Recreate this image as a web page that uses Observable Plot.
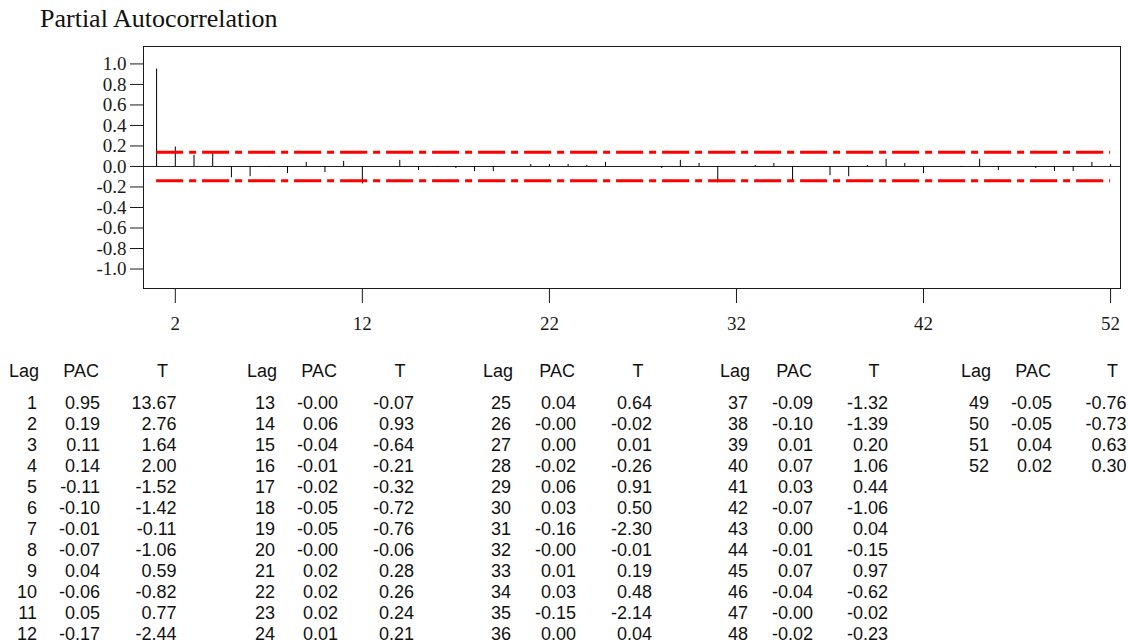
<!DOCTYPE html>
<html><head><meta charset="utf-8">
<script src="https://cdn.jsdelivr.net/npm/d3@7"></script>
<script src="https://cdn.jsdelivr.net/npm/@observablehq/plot@0.6"></script>
<style>
html,body{margin:0;padding:0;background:#fff;}
#root{position:relative;width:1128px;height:643px;overflow:hidden;background:#fff;}
#plot{position:absolute;left:0;top:0;}
#overlay{position:absolute;left:0;top:0;}
</style>
</head><body>
<div id="root"><div id="plot"></div><svg id="overlay" width="1128" height="643"></svg></div>
<script>
// ---- data ----
const titleText = "Partial Autocorrelation";
const lags = [1,2,3,4,5,6,7,8,9,10,11,12,13,14,15,16,17,18,19,20,21,22,23,24,25,26,
  27,28,29,30,31,32,33,34,35,36,37,38,39,40,41,42,43,44,45,46,47,48,49,50,51,52];
const pac = [0.95,0.19,0.11,0.14,-0.11,-0.10,-0.01,-0.07,0.04,-0.06,0.05,-0.17,
  -0.00,0.06,-0.04,-0.01,-0.02,-0.05,-0.05,-0.00,0.02,0.02,0.02,0.01,
  0.04,-0.00,0.00,-0.02,0.06,0.03,-0.16,-0.00,0.01,0.03,-0.15,0.00,
  -0.09,-0.10,0.01,0.07,0.03,-0.07,0.00,-0.01,0.07,-0.04,-0.00,-0.02,
  -0.05,-0.05,0.04,0.02];
const tStat = [13.67,2.76,1.64,2.00,-1.52,-1.42,-0.11,-1.06,0.59,-0.82,0.77,-2.44,
  -0.07,0.93,-0.64,-0.21,-0.32,-0.72,-0.76,-0.06,0.28,0.26,0.24,0.21,
  0.64,-0.02,0.01,-0.26,0.91,0.50,-2.30,-0.01,0.19,0.48,-2.14,0.04,
  -1.32,-1.39,0.20,1.06,0.44,-1.06,0.04,-0.15,0.97,-0.62,-0.02,-0.23,
  -0.76,-0.73,0.63,0.30];
const confLimits = [0.139, -0.139];
const xTicks = [2,12,22,32,42,52];
const yTicks = [-1.0,-0.8,-0.6,-0.4,-0.2,0.0,0.2,0.4,0.6,0.8,1.0];
const tableHeaders = ["Lag","PAC","T"];

// ---- chart ----
const rows = lags.map((l,i) => ({lag:l, pac:pac[i], t:tStat[i]}));
const serif = '"Liberation Serif","Times New Roman",serif';
const chart = Plot.plot({
  width: 1128, height: 340,
  marginLeft: 143, marginRight: 8, marginTop: 46, marginBottom: 52,
  style: {fontFamily: serif, fontSize: "19px", color: "#1a1a1a", background: "transparent", overflow: "visible"},
  x: {domain: [0.3, 52.53], ticks: xTicks, tickSize: 15, tickPadding: 13, label: null, tickFormat: d => String(d)},
  y: {domain: [-1.19, 1.17], ticks: yTicks, tickSize: 13, tickPadding: 4, label: null, tickFormat: d => d.toFixed(1)},
  marks: [
    Plot.frame({stroke: "#1a1a1a"}),
    Plot.ruleY([0], {stroke: "#1a1a1a"}),
    Plot.ruleX(rows, {x: "lag", y1: 0, y2: "pac", stroke: "#000", strokeWidth: 1}),
    Plot.ruleY(confLimits, {x1: lags[0], x2: lags[lags.length-1], stroke: "#ff0000", strokeWidth: 3, strokeDasharray: "27,6,7,6"})
  ]
});
document.getElementById("plot").appendChild(chart);

// ---- title and table ----
const svg = d3.select("#overlay");
svg.append("text").attr("x", 40).attr("y", 27)
  .attr("font-family", serif).attr("font-size", 26).attr("fill", "#111").text(titleText);

const fmt = v => (Object.is(v, -0) ? "-0.00" : v.toFixed(2));
const groupHead = [ {lag:39, pac:99, t:162.5}, {lag:277, pac:337, t:400}, {lag:513, pac:575, t:638},
  {lag:750, pac:812, t:874}, {lag:991, pac:1051, t:1112.5} ];
const perGroup = 12, headY = 377, row0Y = 408.5, rowStep = 21;
const tbl = svg.append("g").attr("font-family", '"Liberation Sans",Arial,sans-serif')
  .attr("font-size", 18).attr("fill", "#111");
groupHead.forEach((g, gi) => {
  tbl.append("text").attr("x", g.lag).attr("y", headY).attr("text-anchor", "end").text(tableHeaders[0]);
  tbl.append("text").attr("x", g.pac).attr("y", headY).attr("text-anchor", "end").text(tableHeaders[1]);
  tbl.append("text").attr("x", g.t).attr("y", headY).attr("text-anchor", "middle").text(tableHeaders[2]);
  rows.slice(gi*perGroup, (gi+1)*perGroup).forEach((r, ri) => {
    const y = row0Y + ri*rowStep;
    tbl.append("text").attr("x", g.lag - 2).attr("y", y).attr("text-anchor", "end").text(String(r.lag));
    tbl.append("text").attr("x", g.pac + 1).attr("y", y).attr("text-anchor", "end").text(fmt(r.pac));
    tbl.append("text").attr("x", g.t + 14).attr("y", y).attr("text-anchor", "end").text(r.t.toFixed(2));
  });
});
</script>
</body></html>
